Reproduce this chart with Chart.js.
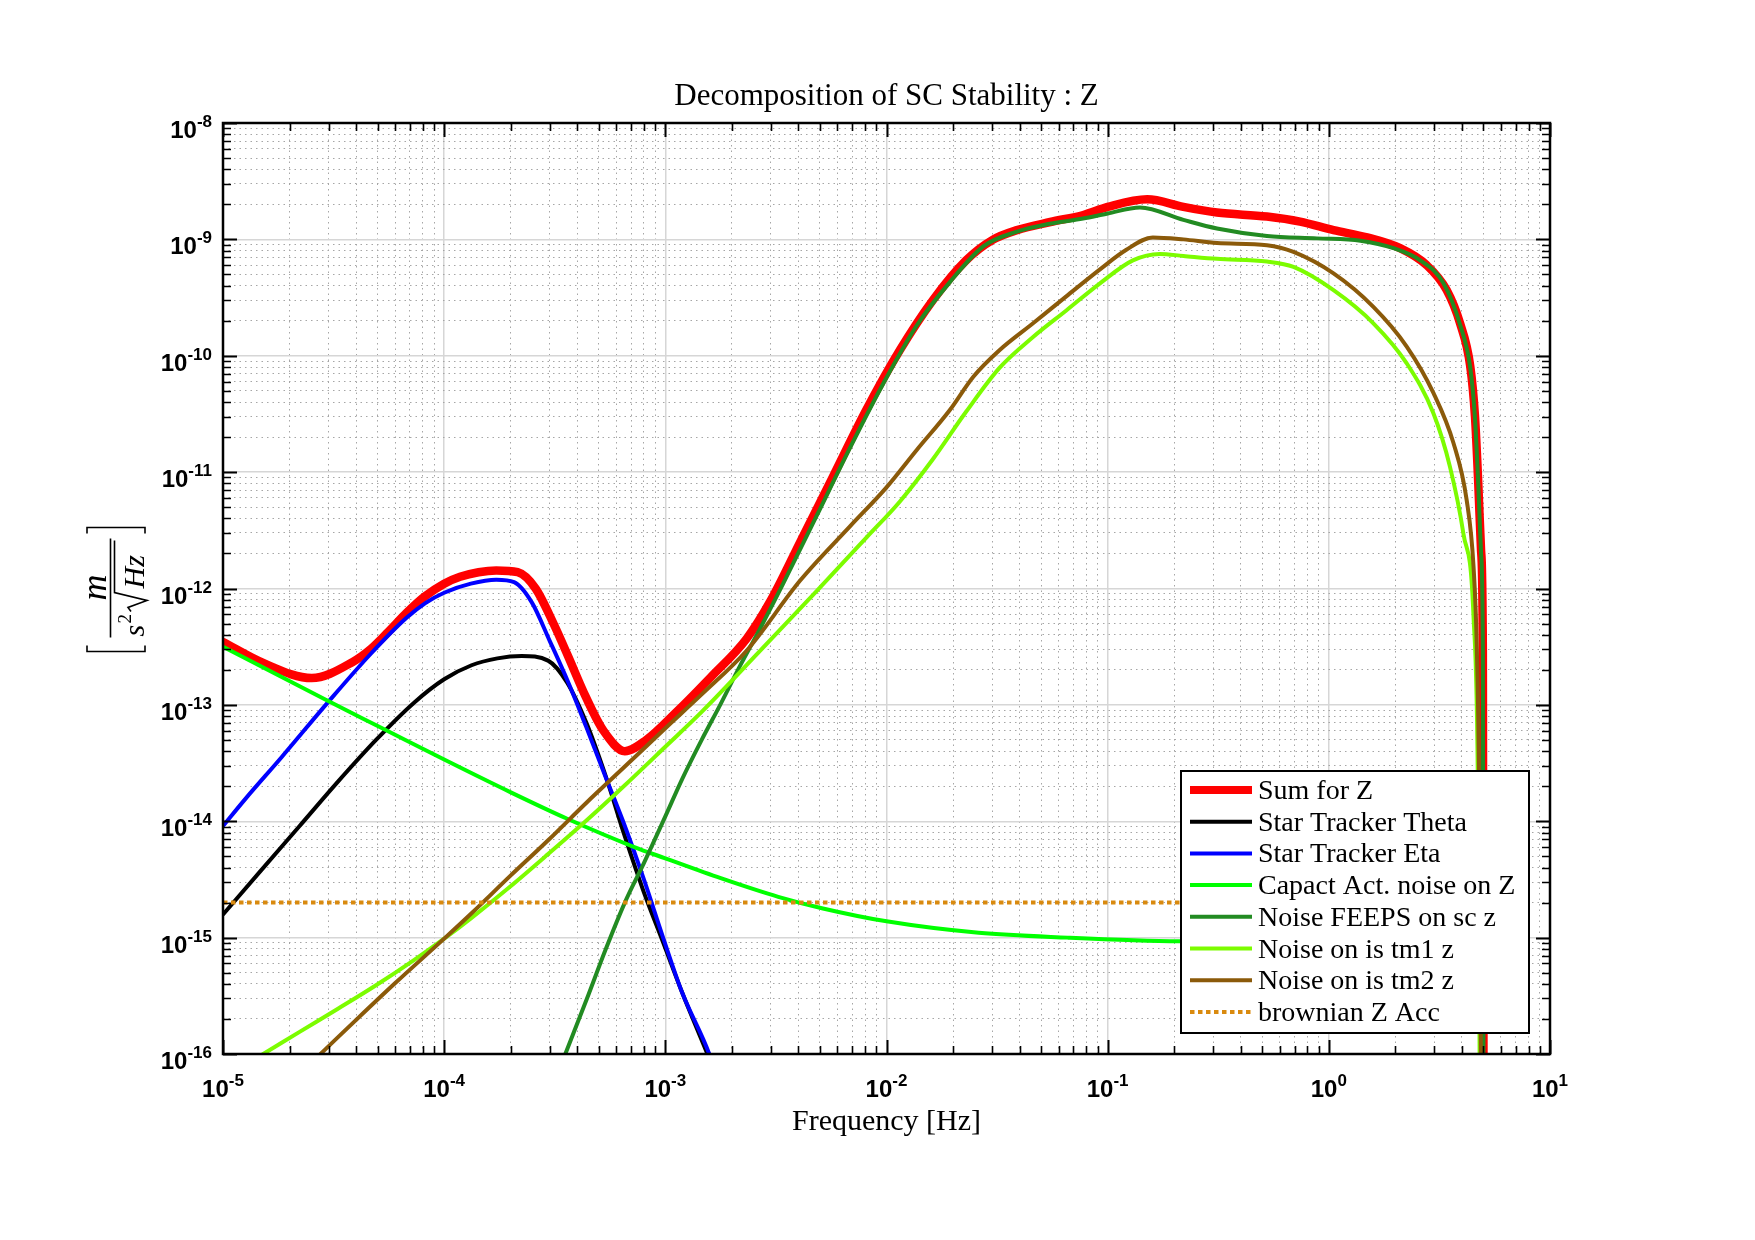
<!DOCTYPE html>
<html>
<head>
<meta charset="utf-8">
<title>Decomposition of SC Stability : Z</title>
<script src="https://cdn.jsdelivr.net/npm/chart.js@4.4.1/dist/chart.umd.min.js"></script>
<style>
  html, body { margin: 0; padding: 0; background: #fff; }
</style>
</head>
<body>
<canvas id="myChart" width="1755" height="1240"></canvas>
<script>
// values: frequency [Hz] and ASD [m/s^2/sqrt(Hz)]
const sum_freq = [1.0e-5, 1.52e-5, 2.52e-5, 3.86e-5, 4.66e-5, 5.61e-5, 6.76e-5, 8.15e-5, 1.0e-4, 1.18e-4,
  1.43e-4, 1.72e-4, 2.15e-4, 2.59e-4, 3.12e-4, 3.63e-4, 4.37e-4, 5.25e-4, 6.56e-4, 8.2e-4,
  1.11e-3, 1.61e-3, 2.33e-3, 3.02e-3, 4.07e-3, 5.75e-3, 8.13e-3, 1.15e-2, 1.62e-2, 2.29e-2,
  3.02e-2, 3.89e-2, 5.5e-2, 7.76e-2, 0.1, 0.151, 0.22, 0.312, 0.525, 0.741,
  1.05, 1.49, 2.1, 2.77, 3.41, 3.92, 4.36, 4.58, 4.74, 4.88,
  4.97, 5.01];
const sum_vals = [3.47e-13, 2.29e-13, 1.70e-13, 2.34e-13, 3.02e-13, 4.27e-13, 6.17e-13, 8.5e-13, 1.1e-12, 1.26e-12,
  1.38e-12, 1.43e-12, 1.38e-12, 1.0e-12, 5.0e-13, 2.63e-13, 1.17e-13, 6.0e-14, 4.0e-14, 5.0e-14,
  8.5e-14, 1.74e-13, 3.7e-13, 8.1e-13, 2.5e-12, 9.3e-12, 3.47e-11, 1.12e-10, 3.0e-10, 6.6e-10,
  9.9e-10, 1.2e-9, 1.41e-9, 1.62e-9, 1.9e-9, 2.21e-9, 1.9e-9, 1.7e-9, 1.57e-9, 1.42e-9,
  1.2e-9, 1.04e-9, 8.4e-10, 6.0e-10, 3.67e-10, 1.9e-10, 8.1e-11, 3.0e-11, 7.9e-12, 2.1e-12,
  2.95e-13, 1e-17];

const theta_freq = [1.0e-5, 1.49e-5, 2.22e-5, 3.31e-5, 4.92e-5, 7.33e-5, 1.0e-4, 1.33e-4, 1.74e-4, 2.24e-4,
  2.95e-4, 3.6e-4, 4.41e-4, 5.37e-4, 6.56e-4, 8.0e-4, 9.77e-4, 1.19e-3, 1.55e-3, 1.7e-3];
const theta_vals = [1.58e-15, 3.8e-15, 9.1e-15, 2.19e-14, 5.0e-14, 1.05e-13, 1.66e-13, 2.19e-13, 2.51e-13, 2.63e-13,
  2.4e-13, 1.55e-13, 6.9e-14, 2.45e-14, 7.4e-15, 2.45e-15, 9.1e-16, 3.39e-16, 1.0e-16, 6.5e-17];

const eta_freq = [1.0e-5, 1.26e-5, 1.84e-5, 2.98e-5, 4.66e-5, 6.76e-5, 8.22e-5, 1.0e-4, 1.32e-4, 1.72e-4,
  2.07e-4, 2.49e-4, 3.0e-4, 3.63e-4, 4.37e-4, 5.37e-4, 6.56e-4, 8.0e-4, 9.77e-4, 1.19e-3,
  1.58e-3, 1.7e-3];
const eta_vals = [9.1e-15, 1.55e-14, 3.55e-14, 1.05e-13, 2.75e-13, 5.6e-13, 7.5e-13, 9.2e-13, 1.1e-12, 1.19e-12,
  1.135e-12, 7.6e-13, 3.55e-13, 1.58e-13, 6.6e-14, 2.4e-14, 9.1e-15, 3.16e-15, 1.0e-15, 3.39e-16,
  1.0e-16, 6.5e-17];

const cap_freq = [1.0e-5, 2.93e-5, 5.33e-5, 1.0e-4, 1.99e-4, 3.6e-4, 7.24e-4, 1.0e-3, 1.78e-3, 3.24e-3,
  5.16e-3, 1.0e-2, 2.61e-2, 6.6e-2, 0.211, 1.0, 4.0];
const cap_vals = [3.16e-13, 1.1e-13, 6.2e-14, 3.39e-14, 1.78e-14, 1.05e-14, 6.0e-15, 4.8e-15, 3.24e-15, 2.24e-15,
  1.78e-15, 1.38e-15, 1.1e-15, 1.0e-15, 9.3e-16, 9.2e-16, 9.2e-16];

const feeps_freq = [3.3e-4, 3.53e-4, 4.41e-4, 5.37e-4, 6.56e-4, 8.0e-4, 1.0e-3, 1.19e-3, 1.46e-3, 1.78e-3,
  2.17e-3, 2.64e-3, 3.41e-3, 4.83e-3, 6.82e-3, 9.66e-3, 1.37e-2, 1.93e-2, 2.74e-2, 3.86e-2,
  5.47e-2, 7.74e-2, 0.1, 0.14, 0.22, 0.312, 0.525, 0.883, 1.39, 1.96,
  2.59, 3.3, 3.92, 4.36, 4.58, 4.74, 4.88, 4.97, 5.01];
const feeps_vals = [7.2e-17, 1.0e-16, 2.95e-16, 7.9e-16, 2.0e-15, 4.37e-15, 1.1e-14, 2.29e-14, 5.0e-14, 1.02e-13,
  2.14e-13, 4.27e-13, 1.1e-12, 4.2e-12, 1.6e-11, 5.75e-11, 1.82e-10, 4.27e-10, 8.7e-10, 1.16e-9,
  1.36e-9, 1.51e-9, 1.67e-9, 1.88e-9, 1.47e-9, 1.24e-9, 1.07e-9, 1.02e-9, 9.75e-10, 8.4e-10,
  6.6e-10, 4.2e-10, 1.85e-10, 7.9e-11, 2.9e-11, 7.7e-12, 2.0e-12, 2.8e-13, 1e-17];

const tm1_freq = [1.4e-5, 1.52e-5, 2.22e-5, 3.31e-5, 4.92e-5, 7.33e-5, 1.0e-4, 1.33e-4, 1.99e-4, 2.96e-4,
  4.41e-4, 6.56e-4, 1.0e-3, 1.46e-3, 2.64e-3, 4.83e-3, 8.13e-3, 1.15e-2, 1.62e-2, 2.29e-2,
  3.25e-2, 4.6e-2, 6.5e-2, 9.2e-2, 0.13, 0.172, 0.22, 0.312, 0.525, 0.692,
  1.05, 1.59, 2.25, 2.97, 3.53, 4.06, 4.51, 4.72, 4.84];
const tm1_vals = [9.1e-17, 1.0e-16, 1.55e-16, 2.45e-16, 3.9e-16, 6.45e-16, 9.8e-16, 1.48e-15, 2.75e-15, 5.25e-15,
  1.02e-14, 2.04e-14, 4.37e-14, 8.7e-14, 2.82e-13, 9.5e-13, 2.75e-12, 5.6e-12, 1.29e-11, 3.3e-11,
  7.9e-11, 1.45e-10, 2.45e-10, 4.17e-10, 6.6e-10, 7.5e-10, 7.2e-10, 6.8e-10, 6.45e-10, 5.8e-10,
  3.66e-10, 1.9e-10, 8.6e-11, 3.2e-11, 1.11e-11, 2.95e-12, 5.75e-13, 2.0e-14, 1e-17];

const tm2_freq = [2.5e-5, 2.76e-5, 4.04e-5, 6.01e-5, 1.0e-4, 1.33e-4, 1.99e-4, 2.96e-4, 4.41e-4, 6.56e-4,
  1.0e-3, 1.46e-3, 2.34e-3, 4.07e-3, 6.82e-3, 1.0e-2, 1.37e-2, 1.93e-2, 2.47e-2, 3.25e-2,
  4.6e-2, 6.5e-2, 9.2e-2, 0.121, 0.16, 0.22, 0.312, 0.525, 0.692, 1.05,
  1.59, 2.25, 2.97, 3.66, 4.2, 4.51, 4.67, 4.8, 4.9];
const tm2_vals = [8.3e-17, 1.0e-16, 2.0e-16, 4.07e-16, 9.8e-16, 1.62e-15, 3.39e-15, 6.9e-15, 1.45e-14, 2.95e-14,
  6.3e-14, 1.23e-13, 2.95e-13, 1.17e-12, 3.4e-12, 7.4e-12, 1.55e-11, 3.4e-11, 6.6e-11, 1.12e-10,
  1.9e-10, 3.24e-10, 5.5e-10, 8.1e-10, 1.04e-9, 1.0e-9, 9.3e-10, 8.9e-10, 7.8e-10, 5.1e-10,
  2.63e-10, 1.2e-10, 4.8e-11, 1.78e-11, 5.75e-12, 1.55e-12, 2.95e-13, 1.0e-14, 1e-17];

const brown_freq = [1.0e-5, 1.0];
const brown_vals = [2.0e-15, 2.0e-15];

const x_exponents = [-5, -4, -3, -2, -1, 0, 1];
const y_exponents = [-16, -15, -14, -13, -12, -11, -10, -9, -8];

const sansBold = '"Liberation Sans", Arial, sans-serif';
const serif = '"Liberation Serif", "Times New Roman", serif';

function toPoints(freq, vals) {
  return freq.map((f, i) => ({ x: f, y: vals[i] }));
}

// 1..9 x 10^k ticks for every decade, the 1 x 10^k ones marked as major
function decadeTicks(lo, hi) {
  const out = [];
  for (let k = lo; k < hi; k++) {
    for (let m = 1; m <= 9; m++) out.push({ value: m * Math.pow(10, k), major: m === 1 });
  }
  out.push({ value: Math.pow(10, hi), major: true });
  return out;
}

function makeLine(label, freq, vals, color, width, order, dash) {
  return {
    label: label,
    data: toPoints(freq, vals),
    borderColor: color,
    backgroundColor: color,
    borderWidth: width,
    borderDash: dash || [],
    borderCapStyle: dash ? 'butt' : 'round',
    borderJoinStyle: 'round',
    pointRadius: 0,
    cubicInterpolationMode: 'monotone',
    fill: false,
    clip: 0,
    order: order
  };
}

function powerLabel(ctx, k, x, y, mode) {
  const base = '10';
  const ex = String(k);
  ctx.font = 'bold 24px ' + sansBold;
  const wb = ctx.measureText(base).width;
  ctx.font = 'bold 17px ' + sansBold;
  const we = ctx.measureText(ex).width;
  const x0 = mode === 'right' ? x - wb - we : x - (wb + we) / 2;
  ctx.textAlign = 'left';
  ctx.textBaseline = 'alphabetic';
  ctx.font = 'bold 24px ' + sansBold;
  ctx.fillText(base, x0, y);
  ctx.font = 'bold 17px ' + sansBold;
  ctx.fillText(ex, x0 + wb, y - 11);
}

function drawYLabel(ctx, cx, cy) {
  ctx.save();
  ctx.translate(cx, cy);
  ctx.rotate(-Math.PI / 2);
  ctx.fillStyle = '#000';
  ctx.strokeStyle = '#000';
  ctx.lineWidth = 1.6;
  ctx.beginPath();
  ctx.moveTo(-56, -29); ctx.lineTo(-62, -29); ctx.lineTo(-62, 29); ctx.lineTo(-56, 29);
  ctx.moveTo(56, -29); ctx.lineTo(62, -29); ctx.lineTo(62, 29); ctx.lineTo(56, 29);
  ctx.stroke();
  // numerator
  ctx.textAlign = 'center';
  ctx.textBaseline = 'alphabetic';
  ctx.font = 'italic 36px ' + serif;
  ctx.fillText('m', 2, -10);
  // fraction bar
  ctx.beginPath();
  ctx.moveTo(-48, -5.5); ctx.lineTo(51, -5.5);
  ctx.stroke();
  // denominator: s^2 sqrt(Hz)
  ctx.textAlign = 'left';
  ctx.font = 'italic 30px ' + serif;
  ctx.fillText('s', -47, 28);
  ctx.font = '19px ' + serif;
  ctx.fillText('2', -34, 15);
  ctx.beginPath();
  ctx.moveTo(-22, 15); ctx.lineTo(-18, 12); ctx.lineTo(-11, 31); ctx.lineTo(-3, -1.5); ctx.lineTo(49, -1.5);
  ctx.stroke();
  ctx.font = 'italic 30px ' + serif;
  ctx.fillText('Hz', 1, 28);
  ctx.restore();
}

const matlabFrame = {
  id: 'matlabFrame',
  beforeDraw(chart) {
    const ctx = chart.ctx;
    ctx.save();
    ctx.fillStyle = '#fff';
    ctx.fillRect(0, 0, chart.width, chart.height);
    ctx.restore();
  },
  afterDatasetsDraw(chart) {
    const ctx = chart.ctx;
    const a = chart.chartArea;
    const xs = chart.scales.x;
    const ys = chart.scales.y;
    ctx.save();
    ctx.strokeStyle = '#000';
    // inward tick marks on all four sides
    xs.ticks.forEach(t => {
      const px = Math.round(xs.getPixelForValue(t.value)) + 0.5;
      const len = t.major ? 14 : 8;
      ctx.lineWidth = t.major ? 2 : 1.6;
      ctx.beginPath();
      ctx.moveTo(px, a.bottom); ctx.lineTo(px, a.bottom - len);
      ctx.moveTo(px, a.top); ctx.lineTo(px, a.top + len);
      ctx.stroke();
    });
    ys.ticks.forEach(t => {
      const py = Math.round(ys.getPixelForValue(t.value)) + 0.5;
      const len = t.major ? 14 : 8;
      ctx.lineWidth = t.major ? 2 : 1.6;
      ctx.beginPath();
      ctx.moveTo(a.left, py); ctx.lineTo(a.left + len, py);
      ctx.moveTo(a.right, py); ctx.lineTo(a.right - len, py);
      ctx.stroke();
    });
    ctx.lineWidth = 2.5;
    ctx.strokeRect(a.left, a.top, a.right - a.left, a.bottom - a.top);

    // legend box inside the axes, lower right
    const bx = a.right - 369, by = a.bottom - 283, bw = 348, bh = 262;
    ctx.fillStyle = '#fff';
    ctx.fillRect(bx, by, bw, bh);
    ctx.lineWidth = 2;
    ctx.strokeRect(bx, by, bw, bh);
    ctx.font = '28px ' + serif;
    ctx.textAlign = 'left';
    ctx.textBaseline = 'alphabetic';
    chart.data.datasets.forEach((ds, i) => {
      const ly = by + 19 + i * 31.7;
      ctx.strokeStyle = ds.borderColor;
      ctx.lineWidth = i === 0 ? 8 : 4;
      ctx.setLineDash(ds.borderDash.length ? [4.5, 3.5] : []);
      ctx.beginPath();
      ctx.moveTo(bx + 9, ly); ctx.lineTo(bx + 71, ly);
      ctx.stroke();
      ctx.setLineDash([]);
      ctx.fillStyle = '#000';
      ctx.fillText(ds.label, bx + 77, ly + 9);
    });
    ctx.restore();
  },
  afterDraw(chart) {
    const ctx = chart.ctx;
    const a = chart.chartArea;
    const xs = chart.scales.x;
    const ys = chart.scales.y;
    ctx.save();
    ctx.fillStyle = '#000';
    x_exponents.forEach(k => {
      powerLabel(ctx, k, xs.getPixelForValue(Math.pow(10, k)), a.bottom + 43, 'center');
    });
    y_exponents.forEach(k => {
      powerLabel(ctx, k, a.left - 11, ys.getPixelForValue(Math.pow(10, k)) + 15, 'right');
    });
    ctx.textAlign = 'center';
    ctx.textBaseline = 'alphabetic';
    ctx.font = '31px ' + serif;
    ctx.fillText('Decomposition of SC Stability : Z', (a.left + a.right) / 2, a.top - 18);
    ctx.font = '30px ' + serif;
    ctx.fillText('Frequency [Hz]', (a.left + a.right) / 2, a.bottom + 76);
    drawYLabel(ctx, 116, (a.top + a.bottom) / 2 + 1);
    ctx.restore();
  }
};

const ctx = document.getElementById('myChart').getContext('2d');
const myChart = new Chart(ctx, {
  type: 'line',
  data: {
    datasets: [
      makeLine('Sum for Z', sum_freq, sum_vals, '#ff0000', 8.5, 8),
      makeLine('Star Tracker Theta', theta_freq, theta_vals, '#000000', 4, 7),
      makeLine('Star Tracker Eta', eta_freq, eta_vals, '#0000ff', 4, 6),
      makeLine('Capact Act. noise on Z', cap_freq, cap_vals, '#00ff00', 4, 5),
      makeLine('Noise FEEPS on sc z', feeps_freq, feeps_vals, '#228b22', 4, 4),
      makeLine('Noise on is tm1 z', tm1_freq, tm1_vals, '#7cfc00', 4, 3),
      makeLine('Noise on is tm2 z', tm2_freq, tm2_vals, '#8b5a0a', 4, 2),
      makeLine('brownian Z Acc', brown_freq, brown_vals, '#d98a0f', 4, 1, [4.5, 3.5])
    ]
  },
  options: {
    responsive: false,
    animation: false,
    layout: { padding: { left: 223, right: 205, top: 123, bottom: 186 } },
    plugins: {
      legend: { display: false },
      title: { display: false },
      tooltip: { enabled: false }
    },
    scales: {
      x: {
        type: 'logarithmic',
        min: 1e-5,
        max: 10,
        ticks: { display: false, autoSkip: false },
        afterBuildTicks: (scale) => { scale.ticks = decadeTicks(-5, 1); },
        afterFit: (scale) => { scale.height = 0; },
        grid: {
          drawTicks: false,
          color: (c) => (c.tick && c.tick.major ? '#d6d6d6' : '#a6a6a6'),
          lineWidth: (c) => (c.tick && c.tick.major ? 1.5 : 1)
        },
        border: { display: false, dash: (c) => (c.tick && !c.tick.major ? [1.5, 4] : []) }
      },
      y: {
        type: 'logarithmic',
        min: 1e-16,
        max: 1e-8,
        ticks: { display: false, autoSkip: false },
        afterBuildTicks: (scale) => { scale.ticks = decadeTicks(-16, -8); },
        afterFit: (scale) => { scale.width = 0; },
        grid: {
          drawTicks: false,
          color: (c) => (c.tick && c.tick.major ? '#d6d6d6' : '#a6a6a6'),
          lineWidth: (c) => (c.tick && c.tick.major ? 1.5 : 1)
        },
        border: { display: false, dash: (c) => (c.tick && !c.tick.major ? [1.5, 4] : []) }
      }
    }
  },
  plugins: [matlabFrame]
});
</script>
</body>
</html>
